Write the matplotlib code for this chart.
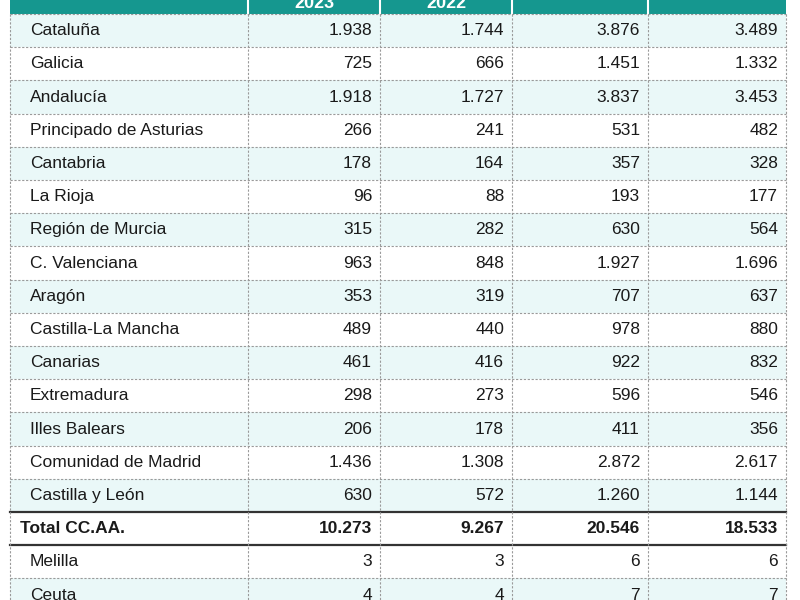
import matplotlib.pyplot as plt

regions = ["Cataluña", "Galicia", "Andalucía", "Principado de Asturias", "Cantabria",
           "La Rioja", "Región de Murcia", "C. Valenciana", "Aragón", "Castilla-La Mancha",
           "Canarias", "Extremadura", "Illes Balears", "Comunidad de Madrid", "Castilla y León",
           "Total CC.AA.", "Melilla", "Ceuta"]
col_2023 = ["1.938", "725", "1.918", "266", "178", "96", "315", "963", "353", "489",
            "461", "298", "206", "1.436", "630", "10.273", "3", "4"]
col_2022 = ["1.744", "666", "1.727", "241", "164", "88", "282", "848", "319", "440",
            "416", "273", "178", "1.308", "572", "9.267", "3", "4"]
col_3 = ["3.876", "1.451", "3.837", "531", "357", "193", "630", "1.927", "707", "978",
         "922", "596", "411", "2.872", "1.260", "20.546", "6", "7"]
col_4 = ["3.489", "1.332", "3.453", "482", "328", "177", "564", "1.696", "637", "880",
         "832", "546", "356", "2.617", "1.144", "18.533", "6", "7"]
headers = ["", "2023", "2022", "", ""]

TEAL = "#15978f"
LIGHT = "#eaf8f8"
GRID = "#9a9a9a"
INK = "#1a1a1a"

col_x = [10, 248, 380, 512, 648, 786]
top = 14
row_h = 33.2
shaded = {0, 2, 4, 6, 8, 10, 12, 14, 17}

fig = plt.figure(figsize=(8, 6), dpi=100, facecolor="white")
ax = fig.add_axes([0, 0, 1, 1])
ax.set_xlim(0, 800)
ax.set_ylim(600, 0)
ax.axis("off")

# header band (cut off at the top, as in the source image)
ax.add_patch(plt.Rectangle((col_x[0], -20), col_x[-1] - col_x[0], top + 20, color=TEAL, lw=0))
for j in range(1, 5):
    ax.plot([col_x[j], col_x[j]], [-20, top], color="white", lw=1.5)
for j, h in enumerate(headers):
    if h:
        ax.text((col_x[j] + col_x[j + 1]) / 2, 4, h, ha="center", va="center",
                color="white", fontsize=13, fontweight="bold", family="Liberation Sans")

columns = [col_2023, col_2022, col_3, col_4]
for i, name in enumerate(regions):
    y0 = top + i * row_h
    yc = y0 + row_h / 2
    if i in shaded:
        ax.add_patch(plt.Rectangle((col_x[0], y0), col_x[-1] - col_x[0], row_h,
                                   color=LIGHT, lw=0, zorder=0))
    bold = name.startswith("Total")
    weight = "bold" if bold else "normal"
    ax.text(col_x[0] + (10 if bold else 20), yc, name, ha="left", va="center",
            fontsize=12.5, color=INK, fontweight=weight, family="Liberation Sans")
    for j, col in enumerate(columns):
        ax.text(col_x[j + 2] - 8, yc, col[i], ha="right", va="center",
                fontsize=12.5, color=INK, fontweight=weight, family="Liberation Sans")

# grid
n = len(regions)
for i in range(n + 1):
    y = top + i * row_h
    if i in (15, 16):
        ax.plot([col_x[0], col_x[-1]], [y, y], color="#333333", lw=1.6)
    else:
        ax.plot([col_x[0], col_x[-1]], [y, y], color=GRID, lw=0.8, ls=(0, (2, 1.5)))
for x in col_x:
    ax.plot([x, x], [top, top + n * row_h], color=GRID, lw=0.8, ls=(0, (2, 1.5)))

fig.savefig("out.png", dpi=100, facecolor="white")
